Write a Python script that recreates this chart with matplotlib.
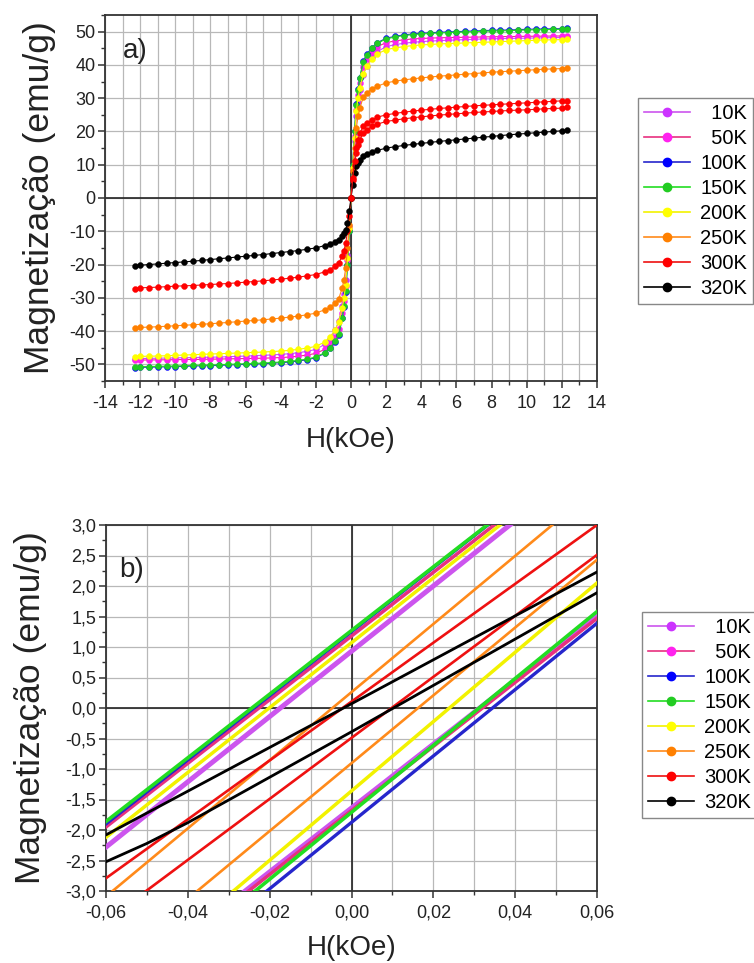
import numpy as np
import matplotlib
matplotlib.use('Agg')
import matplotlib.pyplot as plt
from matplotlib.lines import Line2D
from matplotlib.ticker import MultipleLocator, FuncFormatter

plt.rcParams['font.family'] = ['Liberation Sans', 'DejaVu Sans']
plt.rcParams['axes.unicode_minus'] = False

labels = ['10K', '50K', '100K', '150K', '200K', '250K', '300K', '320K']
line_colors = ['#CC55EE', '#E8307F', '#2626CC', '#22DD22', '#F2F200', '#FF8A1A', '#EE1111', '#000000']
marker_colors = ['#CC33FF', '#FF22EE', '#0000FF', '#22CC22', '#FFFF00', '#FF8000', '#FF0000', '#000000']

# panel a) - positive field branch, negative branch is the mirror image
h_pos = [0, 0.1, 0.2, 0.3, 0.4, 0.5, 0.7, 0.9, 1.2, 1.5, 2.0, 2.5, 3.0, 3.5, 4.0, 4.5,
         5.0, 5.5, 6.0, 6.5, 7.0, 7.5, 8.0, 8.5, 9.0, 9.5, 10.0, 10.5, 11.0, 11.5, 12.0, 12.3]

m_10K = [0, 8.5, 17, 24.5, 29, 32.5, 37, 39.8, 42.3, 44, 45.5, 46.1, 46.5, 46.8, 47.0, 47.15,
         47.3, 47.4, 47.5, 47.6, 47.7, 47.8, 47.85, 47.9, 47.95, 48.0, 48.05, 48.1, 48.15, 48.2, 48.25, 48.3]
m_50K = [0, 9, 18.5, 26.5, 31, 34.5, 39.5, 41.8, 44, 45.5, 46.7, 47.2, 47.55, 47.8, 47.95, 48.05,
         48.15, 48.2, 48.25, 48.3, 48.35, 48.4, 48.45, 48.5, 48.52, 48.55, 48.6, 48.62, 48.65, 48.68, 48.7, 48.72]
m_100K = [0, 10, 20, 28.2, 32.7, 36.2, 41.2, 43.2, 45.2, 46.7, 48.0, 48.6, 49.0, 49.3, 49.5, 49.65,
          49.8, 49.9, 50.0, 50.1, 50.2, 50.3, 50.4, 50.45, 50.5, 50.6, 50.7, 50.75, 50.8, 50.85, 50.9, 51.0]
m_150K = [0, 10, 20, 28, 32.5, 36, 41, 43, 45, 46.5, 47.8, 48.4, 48.8, 49.1, 49.3, 49.45,
          49.6, 49.7, 49.8, 49.9, 50.0, 50.1, 50.2, 50.25, 50.3, 50.4, 50.5, 50.55, 50.6, 50.65, 50.7, 50.8]
m_200K = [0, 9, 18, 26, 30, 33, 37.2, 39.6, 41.8, 43.3, 44.6, 45.1, 45.5, 45.8, 46.0, 46.15,
          46.3, 46.4, 46.5, 46.6, 46.7, 46.8, 46.9, 47.0, 47.1, 47.2, 47.3, 47.4, 47.5, 47.55, 47.6, 47.7]
m_250K = [0, 8, 15, 21, 24.5, 27, 30.3, 31.6, 32.8, 33.6, 34.6, 35.1, 35.5, 35.8, 36.1, 36.35,
          36.6, 36.8, 37.0, 37.2, 37.4, 37.6, 37.8, 37.95, 38.1, 38.25, 38.4, 38.55, 38.7, 38.8, 38.9, 39.0]
m_300K = [0, 5.5, 10, 13.5, 15.8, 17.5, 19.5, 20.5, 21.5, 22.2, 23.0, 23.4, 23.8, 24.1, 24.4, 24.65,
          24.9, 25.1, 25.3, 25.5, 25.7, 25.85, 26.0, 26.15, 26.3, 26.4, 26.5, 26.65, 26.8, 26.9, 27.0, 27.2]
m_320K = [0, 4, 7.5, 9.5, 10.6, 11.5, 12.6, 13.2, 13.8, 14.3, 15.0, 15.4, 15.8, 16.1, 16.4, 16.7,
          17.0, 17.25, 17.5, 17.75, 18.0, 18.25, 18.5, 18.75, 19.0, 19.2, 19.4, 19.6, 19.8, 20.0, 20.2, 20.3]
# second 300K sweep, seen only on the positive side
m_300K_b = [0, 6, 11, 15, 17.5, 19.5, 21.5, 22.5, 23.5, 24.3, 25.0, 25.4, 25.8, 26.1, 26.4, 26.65,
            26.9, 27.1, 27.3, 27.5, 27.7, 27.85, 28.0, 28.15, 28.3, 28.45, 28.6, 28.75, 28.9, 29.05, 29.2, 29.3]
m_top = [m_10K, m_50K, m_100K, m_150K, m_200K, m_250K, m_300K, m_320K]

# panel b) - zoom around H = 0, both sweep branches
zoom_h = [-0.06, 0.06]
zoom_upper = [[-2.28, 4.14], [-1.95, 4.31], [-1.90, 4.40], [-1.86, 4.40],
              [-2.12, 4.26], [-3.09, 3.61], [-2.79, 3.00], None]
zoom_lower = [[-4.78, 1.50], [-4.83, 1.47], [-5.14, 1.39], [-5.00, 1.58],
              [-4.77, 2.05], [-4.24, 2.43], [-3.49, 2.51], None]
black_h_up = [-0.06, 0.0, 0.06]
black_m_up = [-2.08, 0.07, 2.23]
black_h_low = [-0.06, -0.05, -0.04, 0.0, 0.06]
black_m_low = [-2.52, -2.22, -1.88, -0.39, 1.89]
zoom_widths = [3.6, 2.5, 2.4, 2.6, 2.5, 1.9, 1.9, 2.0]

fig = plt.figure(figsize=(7.54, 9.63), dpi=100)
ax1 = fig.add_axes([105 / 754, 1 - 381 / 963, 492 / 754, 366 / 963])
ax2 = fig.add_axes([106 / 754, 1 - 891 / 963, 491 / 754, 366 / 963])


def style_axes(ax):
    ax.grid(True, which='major', color='#B8B8B8', lw=0.9)
    ax.grid(True, which='minor', axis='x', color='#B8B8B8', lw=0.9)
    ax.set_axisbelow(True)
    ax.axhline(0, color='#222222', lw=1.2, zorder=1.5)
    ax.axvline(0, color='#222222', lw=1.2, zorder=1.5)
    for s in ax.spines.values():
        s.set_linewidth(1.3)
        s.set_color('#333333')
    ax.tick_params(which='major', direction='out', length=5, width=1.1, labelsize=13, pad=2,
                   colors='#333333', labelcolor='#222222')
    ax.tick_params(which='minor', direction='out', length=3, width=1.0, colors='#333333')
    ax.tick_params(axis='x', which='major', pad=5)


# ---- panel a)
h_full = np.concatenate([-np.array(h_pos[::-1]), np.array(h_pos[1:])])
for lab, m, lc, mc in zip(labels, m_top, line_colors, marker_colors):
    m_full = np.concatenate([-np.array(m[::-1]), np.array(m[1:])])
    ax1.plot(h_full, m_full, color=lc, lw=0.8, marker='o', ms=4.3, mfc=mc, mec=mc, mew=0.3, zorder=3)
ax1.plot(h_pos, m_300K_b, color=line_colors[6], lw=0.8, marker='o', ms=4.3,
         mfc=marker_colors[6], mec=marker_colors[6], mew=0.3, zorder=3)

ax1.set_xlim(-14, 14)
ax1.set_ylim(-55, 55)
ax1.xaxis.set_major_locator(MultipleLocator(2))
ax1.xaxis.set_minor_locator(MultipleLocator(1))
ax1.yaxis.set_major_locator(MultipleLocator(10))
ax1.yaxis.set_minor_locator(MultipleLocator(5))
style_axes(ax1)
ax1.set_xlabel('H(kOe)', fontsize=20, color='#222222')
ax1.set_ylabel('Magnetização (emu/g)', fontsize=25.5, color='#222222')
ax1.xaxis.set_label_coords(0.5, -0.125)
ax1.yaxis.set_label_coords(-0.1, 0.5)
ax1.text(0.037, 0.937, 'a)', transform=ax1.transAxes, fontsize=20, va='top', ha='left', color='#222222')

# ---- panel b)
for i, (lab, lc) in enumerate(zip(labels, line_colors)):
    if zoom_upper[i] is None:
        ax2.plot(black_h_up, black_m_up, color=lc, lw=zoom_widths[i], zorder=3)
        ax2.plot(black_h_low, black_m_low, color=lc, lw=zoom_widths[i], zorder=3)
    else:
        ax2.plot(zoom_h, zoom_upper[i], color=lc, lw=zoom_widths[i], zorder=3)
        ax2.plot(zoom_h, zoom_lower[i], color=lc, lw=zoom_widths[i], zorder=3)

ax2.set_xlim(-0.06, 0.06)
ax2.set_ylim(-3.0, 3.0)
ax2.xaxis.set_major_locator(MultipleLocator(0.02))
ax2.xaxis.set_minor_locator(MultipleLocator(0.01))
ax2.yaxis.set_major_locator(MultipleLocator(0.5))
ax2.yaxis.set_minor_locator(MultipleLocator(0.25))


def comma_fmt(decimals):
    def f(v, pos):
        if abs(v) < 1e-12:
            v = 0.0
        return f'{v:.{decimals}f}'.replace('.', ',')
    return FuncFormatter(f)


ax2.xaxis.set_major_formatter(comma_fmt(2))
ax2.yaxis.set_major_formatter(comma_fmt(1))
style_axes(ax2)
ax2.set_xlabel('H(kOe)', fontsize=20, color='#222222')
ax2.set_ylabel('Magnetização (emu/g)', fontsize=25.5, color='#222222')
ax2.xaxis.set_label_coords(0.5, -0.12)
ax2.yaxis.set_label_coords(-0.12, 0.5)
ax2.text(0.026, 0.913, 'b)', transform=ax2.transAxes, fontsize=20, va='top', ha='left', color='#222222')

# ---- legends
handles = [Line2D([], [], color=lc, lw=1.2, marker='o', ms=6, mfc=mc, mec=mc)
           for lc, mc in zip(line_colors, marker_colors)]
leg_labels = [('\u2007' + l if len(l) == 3 else l) for l in labels]
for anchor in [(638 / 754, 1 - 98 / 963), (642 / 754, 1 - 612 / 963)]:
    fig.legend(handles, leg_labels, loc='upper left', bbox_to_anchor=anchor,
               fontsize=14.5, frameon=True, fancybox=False, edgecolor='#888888',
               handlelength=2.3, handletextpad=0.5, labelspacing=0.3,
               borderpad=0.3, borderaxespad=0, framealpha=1)

fig.savefig('out.png', dpi=100)
